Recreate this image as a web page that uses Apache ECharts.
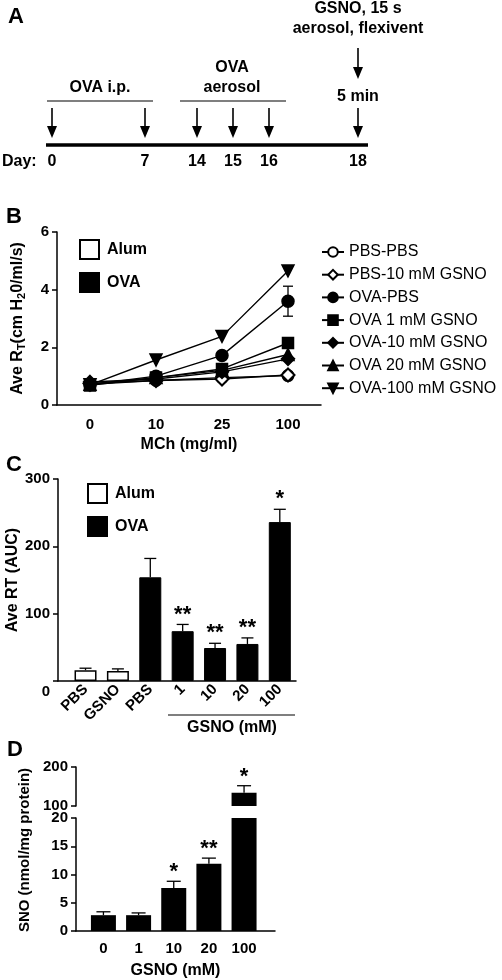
<!DOCTYPE html>
<html><head><meta charset="utf-8">
<script src="https://cdn.jsdelivr.net/npm/echarts@6/dist/echarts.min.js"></script>
<style>html,body{margin:0;padding:0;background:#fff}#c{width:502px;height:980px}</style>
</head><body><div id="c"></div>
<script>
// ---------- Panel A (timeline) ----------
const aDays = ['0', '7', '14', '15', '16', '18'];
// ---------- Panel B ----------
const bCats = ['0', '10', '25', '100'];
const bNames = ['PBS-PBS', 'PBS-10 mM GSNO', 'OVA-PBS', 'OVA 1 mM GSNO', 'OVA-10 mM GSNO', 'OVA 20 mM GSNO', 'OVA-100 mM GSNO'];
const bPbsPbs = [0.72, 0.85, 0.95, 1.02];
const bPbsGsno = [0.75, 0.85, 0.9, 1.04];
const bOvaPbs = [0.7, 1.0, 1.72, 3.6];
const bOva1 = [0.68, 0.95, 1.25, 2.15];
const bOva10 = [0.8, 0.9, 1.15, 1.6];
const bOva20 = [0.72, 0.95, 1.2, 1.75];
const bOva100 = [0.7, 1.56, 2.38, 4.65];
const bOvaPbsErr = [0, 0, 0.12, 0.52];
const bYTicks = [0, 2, 4, 6];
// ---------- Panel C ----------
const cLabels = ['PBS', 'GSNO', 'PBS', '1', '10', '20', '100'];
const cGroup = ['Alum', 'Alum', 'OVA', 'OVA', 'OVA', 'OVA', 'OVA'];
const cValues = [16, 15, 154, 74, 49, 55, 236];
const cErrors = [3, 3, 28, 10, 7, 9, 19];
const cStars = ['', '', '', '**', '**', '**', '*'];
// ---------- Panel D ----------
const dLabels = ['0', '1', '10', '20', '100'];
const dValues = [2.8, 2.8, 7.6, 11.9, 134];
const dErrors = [0.6, 0.4, 1.2, 1.0, 18];
const dStars = ['', '', '*', '**', '*'];

const FONT = "'Liberation Sans', Arial, Helvetica, sans-serif";
const BLACK = '#000';

const chart = echarts.init(document.getElementById('c'), null, {renderer: 'canvas'});

function arrow(x, y1, y2) {
  return {
    type: 'group', children: [
      {type: 'line', shape: {x1: x, y1: y1, x2: x, y2: y2 - 8}, style: {stroke: BLACK, lineWidth: 1.6}},
      {type: 'polygon', shape: {points: [[x - 5, y2 - 12], [x + 5, y2 - 12], [x, y2]]}, style: {fill: BLACK}}
    ]
  };
}
function txt(x, y, text, opts) {
  return Object.assign({
    type: 'text', x: x, y: y,
    style: Object.assign({text: text, font: 'bold 16px ' + FONT, fill: BLACK, align: 'center', verticalAlign: 'middle'}, (opts || {}))
  });
}

const dayX = [52, 145, 197, 233, 269, 358];
const graphics = [
  txt(16, 17, 'A', {font: 'bold 22px ' + FONT}),
  txt(14, 217, 'B', {font: 'bold 22px ' + FONT}),
  txt(14, 465, 'C', {font: 'bold 22px ' + FONT}),
  txt(15, 750, 'D', {font: 'bold 22px ' + FONT}),
  {type: 'line', shape: {x1: 46, y1: 145, x2: 368, y2: 145}, style: {stroke: BLACK, lineWidth: 3.5}},
  txt(2, 162, 'Day:', {align: 'left'}),
  txt(100, 88, 'OVA i.p.'),
  {type: 'line', shape: {x1: 47, y1: 101, x2: 153, y2: 101}, style: {stroke: BLACK, lineWidth: 1.2}},
  txt(232, 68, 'OVA'),
  txt(232, 88, 'aerosol'),
  {type: 'line', shape: {x1: 180, y1: 101, x2: 286, y2: 101}, style: {stroke: BLACK, lineWidth: 1.2}},
  txt(358, 97, '5 min'),
  txt(358, 9, 'GSNO, 15 s'),
  txt(358, 29, 'aerosol, flexivent'),
  arrow(358, 48, 79),
  // Panel C bracket
  {type: 'line', shape: {x1: 168, y1: 715, x2: 295, y2: 715}, style: {stroke: BLACK, lineWidth: 1.2}},
  txt(232, 728, 'GSNO (mM)'),
  // Panel D y name
  {type: 'text', x: 25, y: 850, rotation: Math.PI / 2,
   style: {text: 'SNO (nmol/mg protein)', font: 'bold 15px ' + FONT, fill: BLACK, align: 'center', verticalAlign: 'middle'}}
];
aDays.forEach((d, i) => {
  graphics.push(arrow(dayX[i], 108, 138));
  graphics.push(txt(dayX[i], 162, d));
});

const axisLine = {show: true, onZero: false, lineStyle: {color: BLACK, width: 1.5}};
const axisTick = {show: true, length: 5, lineStyle: {color: BLACK, width: 1.5}};
const axisLabel = {color: BLACK, fontFamily: FONT, fontWeight: 'bold', fontSize: 15};
const nameStyle = {color: BLACK, fontFamily: FONT, fontWeight: 'bold', fontSize: 16};

// B series
const bData = [bPbsPbs, bPbsGsno, bOvaPbs, bOva1, bOva10, bOva20, bOva100];
const bSymbols = ['emptyCircle', 'emptyDiamond', 'circle', 'rect', 'diamond', 'triangle', 'triangle'];
const bSizes = [11, 13, 12, 11, 13, 12, 12];
const bSeries = bNames.map((n, i) => ({
  name: n, type: 'line', xAxisIndex: 0, yAxisIndex: 0,
  data: bData[i], symbol: bSymbols[i], symbolSize: bSizes[i], symbolRotate: i === 6 ? 180 : 0,
  itemStyle: {color: BLACK, borderColor: BLACK, borderWidth: 1.5},
  lineStyle: {color: BLACK, width: 1.4}, showSymbol: true, z: 3 + i
}));
bSeries.push({
  type: 'custom', xAxisIndex: 0, yAxisIndex: 0, z: 2,
  data: bOvaPbs.map((v, i) => [i, v, bOvaPbsErr[i]]),
  encode: {x: 0, y: 1},
  renderItem: function (params, api) {
    const i = api.value(0), v = api.value(1), e = api.value(2);
    if (!e) return;
    const top = api.coord([i, v + e]), bot = api.coord([i, v - e]);
    const w = 5;
    return {type: 'group', children: [
      {type: 'line', shape: {x1: top[0], y1: top[1], x2: bot[0], y2: bot[1]}, style: {stroke: BLACK, lineWidth: 1.3}},
      {type: 'line', shape: {x1: top[0] - w, y1: top[1], x2: top[0] + w, y2: top[1]}, style: {stroke: BLACK, lineWidth: 1.3}},
      {type: 'line', shape: {x1: bot[0] - w, y1: bot[1], x2: bot[0] + w, y2: bot[1]}, style: {stroke: BLACK, lineWidth: 1.3}}
    ]};
  }
});

// C series
const cAlum = cValues.map((v, i) => cGroup[i] === 'Alum' ? [i, v] : null).filter(Boolean);
const cOva = cValues.map((v, i) => cGroup[i] === 'OVA' ? [i, v] : null).filter(Boolean);
const cSeries = [
  {name: 'Alum', type: 'bar', xAxisIndex: 1, yAxisIndex: 1, data: cAlum, barWidth: 22, barGap: '-100%',
   itemStyle: {color: '#fff', borderColor: BLACK, borderWidth: 1.5}},
  {name: 'OVA', type: 'bar', xAxisIndex: 1, yAxisIndex: 1, data: cOva, barWidth: 22, barGap: '-100%',
   itemStyle: {color: BLACK, borderColor: BLACK, borderWidth: 1}},
  {type: 'custom', xAxisIndex: 1, yAxisIndex: 1, z: 1,
   data: cValues.map((v, i) => [i, v, cErrors[i]]), encode: {x: 0, y: 1},
   renderItem: function (params, api) {
     const i = api.value(0), v = api.value(1), e = api.value(2);
     const top = api.coord([i, v + e]), base = api.coord([i, v]);
     const w = 6;
     const ch = [
       {type: 'line', shape: {x1: top[0], y1: top[1], x2: base[0], y2: base[1]}, style: {stroke: BLACK, lineWidth: 1.3}},
       {type: 'line', shape: {x1: top[0] - w, y1: top[1], x2: top[0] + w, y2: top[1]}, style: {stroke: BLACK, lineWidth: 1.3}}
     ];
     const s = cStars[params.dataIndex];
     if (s) ch.push({type: 'text', x: top[0], y: top[1] - 10,
       style: {text: s, font: 'bold 22px ' + FONT, fill: BLACK, align: 'center', verticalAlign: 'middle'}});
     return {type: 'group', children: ch};
   }}
];

// D series
function dErrRender(lo, hi) {
  return function (params, api) {
    const i = api.value(0), v = api.value(1), e = api.value(2);
    if (v < lo || v > hi) return;
    const top = api.coord([i, v + e]), base = api.coord([i, v]);
    const w = 7;
    const ch = [
      {type: 'line', shape: {x1: top[0], y1: top[1], x2: base[0], y2: base[1]}, style: {stroke: BLACK, lineWidth: 1.3}},
      {type: 'line', shape: {x1: top[0] - w, y1: top[1], x2: top[0] + w, y2: top[1]}, style: {stroke: BLACK, lineWidth: 1.3}}
    ];
    const s = dStars[params.dataIndex];
    if (s) ch.push({type: 'text', x: top[0], y: top[1] - 9,
      style: {text: s, font: 'bold 22px ' + FONT, fill: BLACK, align: 'center', verticalAlign: 'middle'}});
    return {type: 'group', children: ch};
  };
}
const dSeries = [
  {type: 'bar', xAxisIndex: 2, yAxisIndex: 2, clip: true, barWidth: 25,
   data: dValues.map((v, i) => [i, v]), itemStyle: {color: BLACK}},
  {type: 'bar', xAxisIndex: 3, yAxisIndex: 3, clip: true, barWidth: 25,
   data: dValues.map((v, i) => [i, v > 100 ? v : '-']), itemStyle: {color: BLACK}},
  {type: 'custom', xAxisIndex: 2, yAxisIndex: 2, z: 1, clip: false,
   data: dValues.map((v, i) => [i, v, dErrors[i]]), encode: {x: 0, y: 1}, renderItem: dErrRender(0, 20)},
  {type: 'custom', xAxisIndex: 3, yAxisIndex: 3, z: 1, clip: false,
   data: dValues.map((v, i) => [i, v, dErrors[i]]), encode: {x: 0, y: 1}, renderItem: dErrRender(100, 1e9)}
];

const option = {
  animation: false,
  backgroundColor: '#fff',
  textStyle: {fontFamily: FONT},
  grid: [
    {left: 57, top: 232, width: 264, height: 173},
    {left: 58, top: 479, width: 238, height: 202},
    {left: 76, top: 818, width: 199, height: 115},
    {left: 76, top: 767, width: 199, height: 39}
  ],
  legend: [
    {data: bNames, orient: 'vertical', left: 316, top: 239, itemGap: 6.7, itemWidth: 22, itemHeight: 12,
     textStyle: {color: BLACK, fontFamily: FONT, fontSize: 16}, selectedMode: false},
    {data: ['Alum', 'OVA'], orient: 'vertical', left: 74, top: 234, itemGap: 12, itemWidth: 19, itemHeight: 19,
     icon: 'rect', textStyle: {color: BLACK, fontFamily: FONT, fontSize: 16, fontWeight: 'bold', padding: [0, 0, 0, 3]}, selectedMode: false},
    {data: ['Alum', 'OVA'], orient: 'vertical', left: 82, top: 478, itemGap: 12, itemWidth: 19, itemHeight: 19,
     icon: 'rect', textStyle: {color: BLACK, fontFamily: FONT, fontSize: 16, fontWeight: 'bold', padding: [0, 0, 0, 3]}, selectedMode: false}
  ],
  xAxis: [
    {gridIndex: 0, type: 'category', data: bCats, boundaryGap: true, axisLine: axisLine, axisTick: {show: false},
     axisLabel: Object.assign({margin: 12}, axisLabel),
     name: 'MCh (mg/ml)', nameLocation: 'middle', nameGap: 32, nameTextStyle: nameStyle},
    {gridIndex: 1, type: 'value', min: -0.85, max: 6.5, splitLine: {show: false}, axisLine: axisLine, axisTick: {show: false},
     axisLabel: Object.assign({}, axisLabel, {rotate: 45, margin: 6, customValues: cLabels.map((l, i) => i),
       formatter: v => cLabels[Math.round(v)]})},
    {gridIndex: 2, type: 'value', min: -0.78, max: 4.88, splitLine: {show: false}, axisLine: axisLine, axisTick: {show: false},
     axisLabel: Object.assign({}, axisLabel, {margin: 10, customValues: dLabels.map((l, i) => i),
       formatter: v => dLabels[Math.round(v)]}),
     name: 'GSNO (mM)', nameLocation: 'middle', nameGap: 32, nameTextStyle: nameStyle},
    {gridIndex: 3, type: 'value', min: -0.78, max: 4.88, show: false}
  ],
  yAxis: [
    {gridIndex: 0, type: 'value', min: 0, max: 6, interval: 2, splitLine: {show: false}, axisLine: axisLine, axisTick: axisTick,
     axisLabel: Object.assign({margin: 8}, axisLabel),
     name: 'Ave R{s|T}(cm H{s|2}0/ml/s)', nameLocation: 'middle', nameGap: 30,
     nameTextStyle: Object.assign({}, nameStyle, {rich: {s: {fontSize: 11, fontWeight: 'bold', fontFamily: FONT, padding: [8, 0, 0, 0]}}})},
    {gridIndex: 1, type: 'value', min: 0, max: 300, interval: 100, splitLine: {show: false}, axisLine: axisLine, axisTick: axisTick,
     axisLabel: Object.assign({margin: 8}, axisLabel, {formatter: v => v === 0 ? '{z|0}' : String(v),
       rich: {z: {fontSize: 15, fontWeight: 'bold', fontFamily: FONT, color: BLACK, padding: [22, 0, 0, 0]}}}),
     name: 'Ave RT (AUC)', nameLocation: 'middle', nameGap: 37, nameTextStyle: nameStyle},
    {gridIndex: 2, type: 'value', min: 0, max: 20, interval: 5, splitLine: {show: false}, axisLine: axisLine, axisTick: axisTick,
     axisLabel: Object.assign({margin: 8}, axisLabel)},
    {gridIndex: 3, type: 'value', min: 100, max: 200, interval: 100, splitLine: {show: false}, axisLine: axisLine, axisTick: axisTick,
     axisLabel: Object.assign({margin: 8}, axisLabel)}
  ],
  series: bSeries.concat(cSeries).concat(dSeries),
  graphic: graphics
};
chart.setOption(option);
</script>
</body></html>
